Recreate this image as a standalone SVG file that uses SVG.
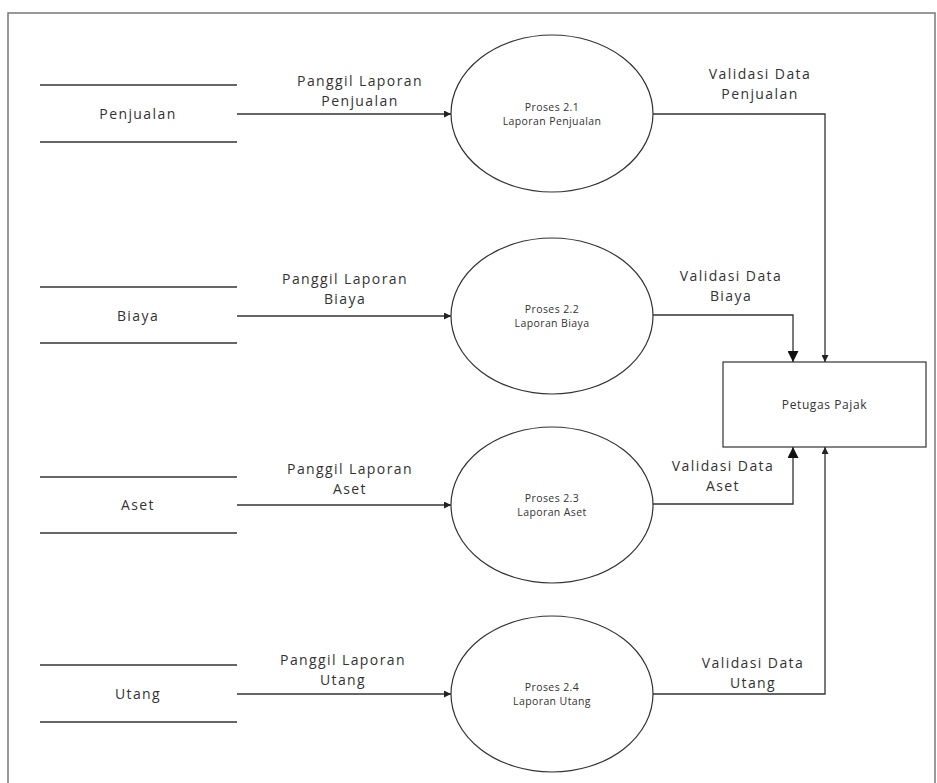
<svg xmlns="http://www.w3.org/2000/svg" width="937" height="783" viewBox="0 0 937 783">
<style>
.lbl{font-family:"Open Sans","Liberation Sans",sans-serif;font-size:14px;letter-spacing:1.4px;fill:#333;text-anchor:middle}
.sm{font-family:"Open Sans","Liberation Sans",sans-serif;font-size:10.5px;letter-spacing:0.4px;fill:#333;text-anchor:middle}
.st{stroke:#333;stroke-width:1.3;fill:none}
.pr{stroke:#333;stroke-width:1.2;fill:#fff}
</style>
<defs>
<marker id="a" viewBox="0 0 10 10" refX="10" refY="5" markerWidth="8" markerHeight="7" markerUnits="userSpaceOnUse" orient="auto"><path d="M0,0L10,5L0,10z" fill="#222"/></marker>
<marker id="b" viewBox="0 0 10 10" refX="10" refY="5" markerWidth="13" markerHeight="11" markerUnits="userSpaceOnUse" orient="auto"><path d="M0,0L10,5L0,10z" fill="#111"/></marker>
</defs>
<rect x="0" y="0" width="937" height="783" fill="#fff"/>
<rect x="8" y="13" width="927" height="790" fill="none" stroke="#777" stroke-width="1.5"/>

<g id="store-penjualan"><line class="st" x1="40" y1="85" x2="237" y2="85"/><line class="st" x1="40" y1="142" x2="237" y2="142"/><text class="lbl" x="138" y="119">Penjualan</text></g>
<g id="store-biaya"><line class="st" x1="40" y1="287" x2="237" y2="287"/><line class="st" x1="40" y1="343" x2="237" y2="343"/><text class="lbl" x="138" y="321">Biaya</text></g>
<g id="store-aset"><line class="st" x1="40" y1="477" x2="237" y2="477"/><line class="st" x1="40" y1="533" x2="237" y2="533"/><text class="lbl" x="138" y="510">Aset</text></g>
<g id="store-utang"><line class="st" x1="40" y1="665" x2="237" y2="665"/><line class="st" x1="40" y1="722" x2="237" y2="722"/><text class="lbl" x="138" y="699">Utang</text></g>

<g id="p21"><ellipse class="pr" cx="552" cy="113.5" rx="101" ry="78.5"/><text class="sm" x="552" y="111">Proses 2.1</text><text class="sm" x="552" y="125">Laporan Penjualan</text></g>
<g id="p22"><ellipse class="pr" cx="552" cy="316" rx="101" ry="78"/><text class="sm" x="552" y="313">Proses 2.2</text><text class="sm" x="552" y="327">Laporan Biaya</text></g>
<g id="p23"><ellipse class="pr" cx="552" cy="505" rx="101" ry="78"/><text class="sm" x="552" y="502">Proses 2.3</text><text class="sm" x="552" y="516">Laporan Aset</text></g>
<g id="p24"><ellipse class="pr" cx="552" cy="694" rx="101" ry="78"/><text class="sm" x="552" y="691">Proses 2.4</text><text class="sm" x="552" y="705">Laporan Utang</text></g>

<g id="petugas"><rect class="pr" x="723" y="362" width="203" height="85"/><text class="sm" x="824.5" y="409" style="font-size:12px;letter-spacing:0.6px">Petugas Pajak</text></g>

<g id="connectors">
<line class="st" x1="237" y1="114" x2="451" y2="114" marker-end="url(#a)"/>
<line class="st" x1="237" y1="316" x2="451" y2="316" marker-end="url(#a)"/>
<line class="st" x1="237" y1="505" x2="451" y2="505" marker-end="url(#a)"/>
<line class="st" x1="237" y1="694" x2="451" y2="694" marker-end="url(#a)"/>
<polyline class="st" points="653,114 825,114 825,362" marker-end="url(#a)"/>
<polyline class="st" points="653,315 793,315 793,362" marker-end="url(#b)"/>
<polyline class="st" points="653,504 793,504 793,447" marker-end="url(#b)"/>
<polyline class="st" points="653,694 825,694 825,447" marker-end="url(#a)"/>
<text class="lbl" x="360" y="86">Panggil Laporan</text><text class="lbl" x="360" y="106">Penjualan</text>
<text class="lbl" x="345" y="284">Panggil Laporan</text><text class="lbl" x="345" y="304">Biaya</text>
<text class="lbl" x="350" y="474">Panggil Laporan</text><text class="lbl" x="350" y="494">Aset</text>
<text class="lbl" x="343" y="665">Panggil Laporan</text><text class="lbl" x="343" y="685">Utang</text>
<text class="lbl" x="760" y="79">Validasi Data</text><text class="lbl" x="760" y="99">Penjualan</text>
<text class="lbl" x="731" y="281">Validasi Data</text><text class="lbl" x="731" y="301">Biaya</text>
<text class="lbl" x="723" y="471">Validasi Data</text><text class="lbl" x="723" y="491">Aset</text>
<text class="lbl" x="753" y="668">Validasi Data</text><text class="lbl" x="753" y="688">Utang</text>
</g>
</svg>
